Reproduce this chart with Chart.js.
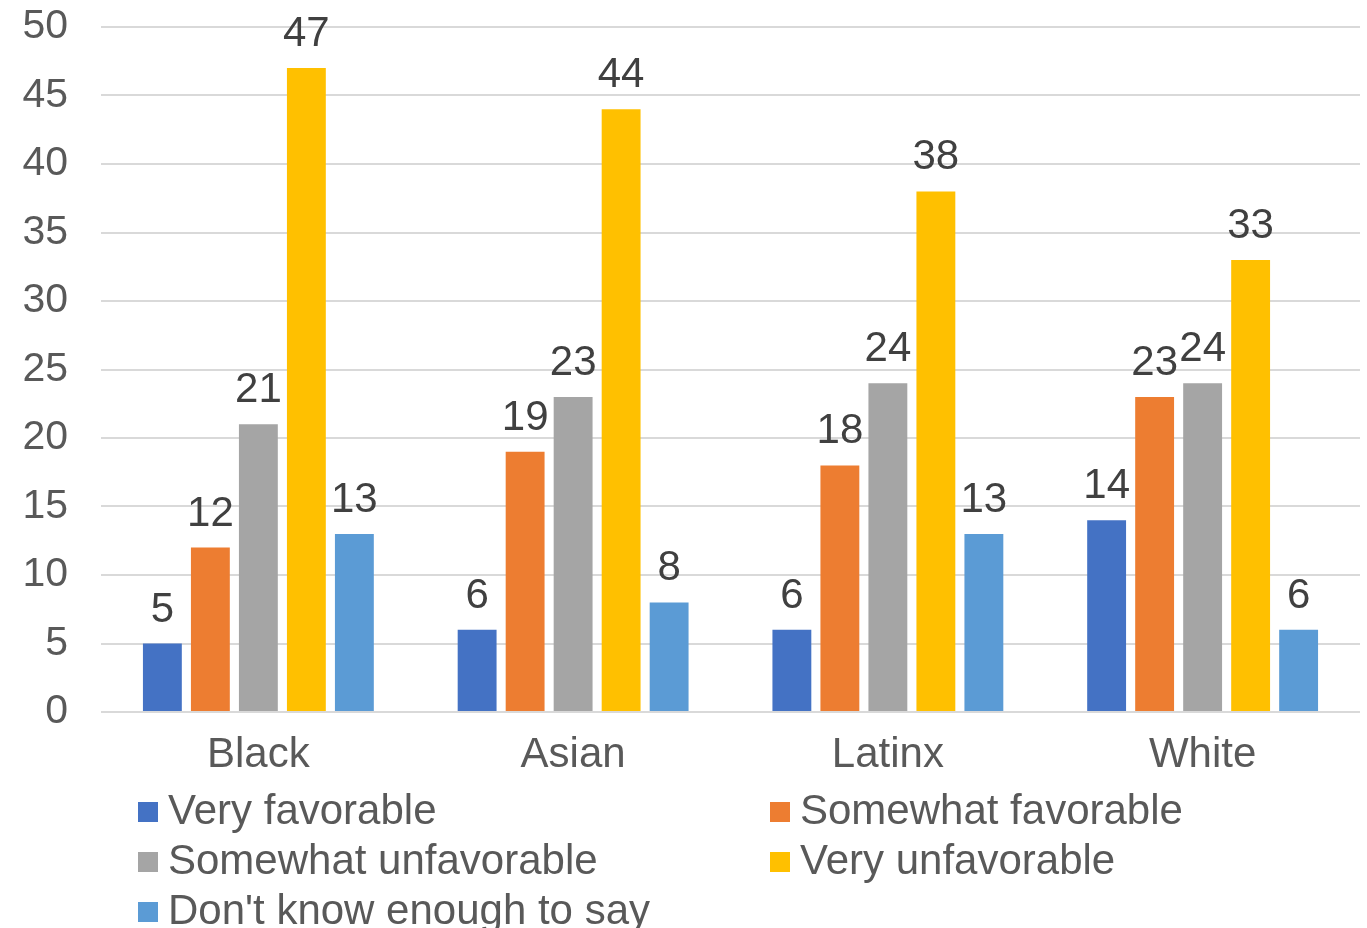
<!DOCTYPE html>
<html lang="en">
<head>
  <meta charset="UTF-8">
  <title>Favorability by group</title>
  <script src="https://cdn.jsdelivr.net/npm/chart.js"></script>
  <style>
    body { margin: 0; background: #ffffff; }
    #wrap { width: 1367px; height: 928px; position: relative; }
  </style>
</head>
<body>
  <div id="wrap"><canvas id="favChart"></canvas></div>
  <script>
    // Data
    const groups = ['Black', 'Asian', 'Latinx', 'White'];
    const seriesNames = ['Very favorable', 'Somewhat favorable', 'Somewhat unfavorable', 'Very unfavorable', "Don't know enough to say"];
    const veryFavorable = [5, 6, 6, 14];
    const somewhatFavorable = [12, 19, 18, 23];
    const somewhatUnfavorable = [21, 23, 24, 24];
    const veryUnfavorable = [47, 44, 38, 33];
    const dontKnow = [13, 8, 13, 6];
    const yTicks = [0, 5, 10, 15, 20, 25, 30, 35, 40, 45, 50];

    const seriesValues = [veryFavorable, somewhatFavorable, somewhatUnfavorable, veryUnfavorable, dontKnow];
    const colors = ['#4472C4', '#ED7D31', '#A5A5A5', '#FFC000', '#5B9BD5'];
    const FONT = '"Liberation Sans", Arial, Helvetica, sans-serif';

    // value labels above each bar
    const barLabels = {
      id: 'barLabels',
      afterDatasetsDraw(chart) {
        const ctx = chart.ctx;
        ctx.save();
        ctx.font = '42px ' + FONT;
        ctx.fillStyle = '#404040';
        ctx.textAlign = 'center';
        ctx.textBaseline = 'alphabetic';
        chart.data.datasets.forEach((ds, i) => {
          chart.getDatasetMeta(i).data.forEach((bar, j) => {
            ctx.fillText(String(ds.data[j]), bar.x, bar.y - 22);
          });
        });
        ctx.restore();
      }
    };

    // two-column legend under the axis
    const gridLegend = {
      id: 'gridLegend',
      afterDraw(chart) {
        const ctx = chart.ctx;
        const colX = [138, 770];
        ctx.save();
        ctx.font = '42px ' + FONT;
        ctx.textBaseline = 'middle';
        ctx.textAlign = 'left';
        chart.data.datasets.forEach((ds, i) => {
          const x = colX[i % 2];
          const yc = 812 + 50 * Math.floor(i / 2);
          ctx.fillStyle = ds.backgroundColor;
          ctx.fillRect(x, yc - 10, 20, 20);
          ctx.fillStyle = '#595959';
          ctx.fillText(ds.label, x + 30, yc);
        });
        ctx.restore();
      }
    };

    const ctx = document.getElementById('favChart').getContext('2d');
    const favChart = new Chart(ctx, {
      type: 'bar',
      data: {
        labels: groups,
        datasets: seriesNames.map((name, i) => ({
          label: name,
          data: seriesValues[i],
          backgroundColor: colors[i],
          borderWidth: 0,
          categoryPercentage: 0.7625,
          barPercentage: 0.81
        }))
      },
      options: {
        responsive: true,
        maintainAspectRatio: false,
        animation: false,
        layout: { padding: { left: 0, right: 7, top: 27, bottom: 146 } },
        plugins: {
          legend: { display: false },
          tooltip: { enabled: false }
        },
        scales: {
          x: {
            grid: { display: false },
            border: { display: false },
            ticks: {
              color: '#595959',
              font: { family: FONT, size: 42 },
              padding: 10
            },
            afterFit(scale) { scale.height = 70; scale.paddingLeft = 0; scale.paddingRight = 0; }
          },
          y: {
            min: 0,
            max: 50,
            afterBuildTicks(scale) { scale.ticks = yTicks.map(v => ({ value: v })); },
            grid: { color: '#D9D9D9', lineWidth: 2, drawTicks: false },
            border: { display: false },
            ticks: {
              color: '#595959',
              font: { family: FONT, size: 41 },
              padding: 33
            },
            afterFit(scale) { scale.width = 101; scale.paddingTop = 0; scale.paddingBottom = 0; }
          }
        }
      },
      plugins: [barLabels, gridLegend]
    });
  </script>
</body>
</html>
